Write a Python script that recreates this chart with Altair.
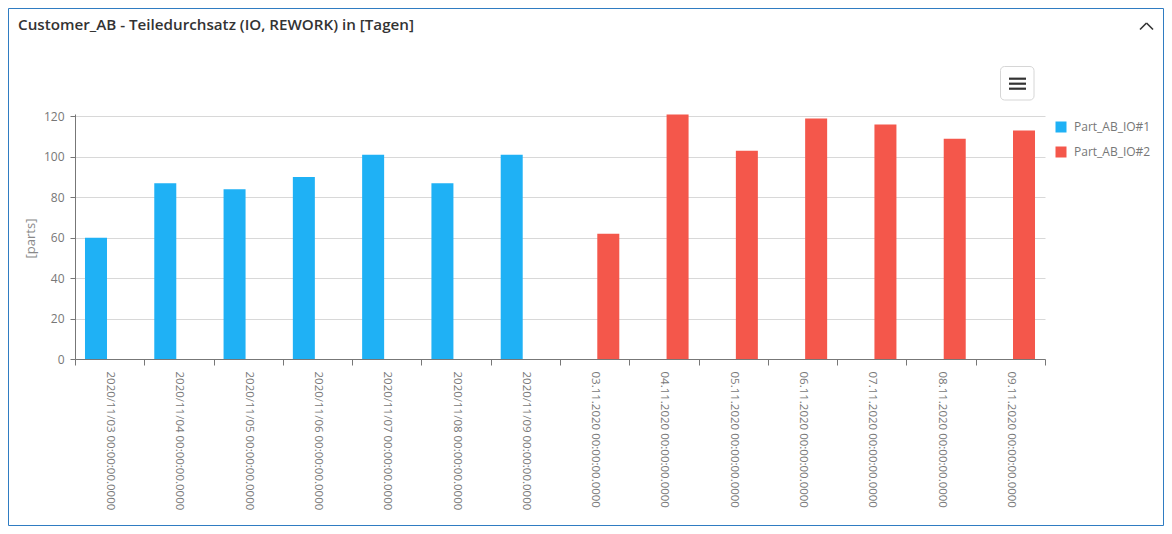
import altair as alt
import pandas as pd

# ---- data ----
dates = [
    "2020/11/03 00:00:00.0000", "2020/11/04 00:00:00.0000", "2020/11/05 00:00:00.0000",
    "2020/11/06 00:00:00.0000", "2020/11/07 00:00:00.0000", "2020/11/08 00:00:00.0000",
    "2020/11/09 00:00:00.0000",
    "03.11.2020 00:00:00.0000", "04.11.2020 00:00:00.0000", "05.11.2020 00:00:00.0000",
    "06.11.2020 00:00:00.0000", "07.11.2020 00:00:00.0000", "08.11.2020 00:00:00.0000",
    "09.11.2020 00:00:00.0000",
]
series_names = ["Part_AB_IO#1", "Part_AB_IO#2"]
series = ["Part_AB_IO#1"] * 7 + ["Part_AB_IO#2"] * 7
values = [60, 87, 84, 90, 101, 87, 101, 62, 121, 103, 119, 116, 109, 113]
y_ticks = [0, 20, 40, 60, 80, 100, 120]
title_text = "Customer_AB - Teiledurchsatz (IO, REWORK) in [Tagen]"
colors = ["#1fb1f5", "#f4574b"]

df = pd.DataFrame({"date": dates, "series": series, "value": values})
one = pd.DataFrame({"a": [0]})

FONT = "Open Sans"
W, H = 970, 245
PAD_L, PAD_T, PAD_R, PAD_B = 67, 106, 119, 167
TOT_W = PAD_L + W + PAD_R
TOT_H = PAD_T + H + PAD_B
OY = 8 + PAD_T  # page y of plot top

def ry(page_y):
    return page_y - OY

bars = alt.Chart(df).mark_bar().encode(
    x=alt.X("date:N", sort=dates,
            scale=alt.Scale(paddingInner=0, paddingOuter=0),
            axis=alt.Axis(title=None, labelAngle=90, labelAlign="left", labelBaseline="middle",
                          tickBand="extent", tickSize=6, labelPadding=6,
                          labelFontSize=11.5, labelColor="#777777", labelFont=FONT,
                          domainColor="#777777", tickColor="#777777", grid=False)),
    xOffset=alt.XOffset("series:N",
                        scale=alt.Scale(domain=series_names, paddingInner=0.194, paddingOuter=0.366)),
    y=alt.Y("value:Q", scale=alt.Scale(domain=[0, 121.2], nice=False, zero=True),
            axis=alt.Axis(values=y_ticks, title="[parts]", titleFont=FONT, titleFontSize=13,
                          titleFontWeight="normal", titleColor="#888888", titleAngle=270,
                          titleX=-45, titleY=ry(238), titleAlign="center", titleBaseline="middle",
                          labelFontSize=12, labelColor="#777777", labelFont=FONT, labelPadding=6,
                          tickSize=5, domainColor="#777777", tickColor="#777777",
                          gridColor="#d8d8d8", gridWidth=1)),
    color=alt.Color("series:N", scale=alt.Scale(domain=series_names, range=colors),
                    legend=alt.Legend(title=None, orient="none", legendX=980, legendY=ry(121),
                                      symbolType="square", symbolSize=121, symbolStrokeWidth=0,
                                      labelFont=FONT, labelFontSize=12, labelColor="#777777",
                                      labelOffset=7, rowPadding=13)),
)

border = alt.Chart(one).mark_rect(fill="white", fillOpacity=0, stroke="#2f7cc2", strokeWidth=1).encode(
    x=alt.value(-PAD_L + 0.5), x2=alt.value(TOT_W - PAD_L - 0.5),
    y=alt.value(-PAD_T + 0.5), y2=alt.value(TOT_H - PAD_T - 0.5))

title = alt.Chart(one).mark_text(text=title_text, font=FONT, fontSize=15.2, fontWeight=600,
                                 color="#333333", align="left", baseline="middle").encode(
    x=alt.value(-57), y=alt.value(ry(25)))

chev1 = alt.Chart(one).mark_rule(color="#333333", strokeWidth=1.6).encode(
    x=alt.value(1065), y=alt.value(ry(29.5)), x2=alt.value(1071.5), y2=alt.value(ry(23)))
chev2 = alt.Chart(one).mark_rule(color="#333333", strokeWidth=1.6).encode(
    x=alt.value(1071.5), y=alt.value(ry(23)), x2=alt.value(1078), y2=alt.value(ry(29.5)))

menu_box = alt.Chart(one).mark_rect(fill="white", stroke="#d6d6d6", strokeWidth=1, cornerRadius=4).encode(
    x=alt.value(925.5), x2=alt.value(959), y=alt.value(ry(66.5)), y2=alt.value(ry(100)))
menu_lines = [
    alt.Chart(one).mark_rule(color="#333333", strokeWidth=2.2).encode(
        x=alt.value(934), x2=alt.value(951), y=alt.value(ry(yy)))
    for yy in (78.7, 83.7, 88.7)
]

chart = alt.layer(border, bars, title, chev1, chev2, menu_box, *menu_lines).properties(
    width=W, height=H,
    autosize=alt.AutoSizeParams(type="none"),
    padding={"left": PAD_L, "top": PAD_T, "right": PAD_R, "bottom": PAD_B},
).configure(font=FONT, view=alt.ViewConfig(stroke=None))

chart.save("out.html", embed_options={"renderer": "svg", "actions": False})
